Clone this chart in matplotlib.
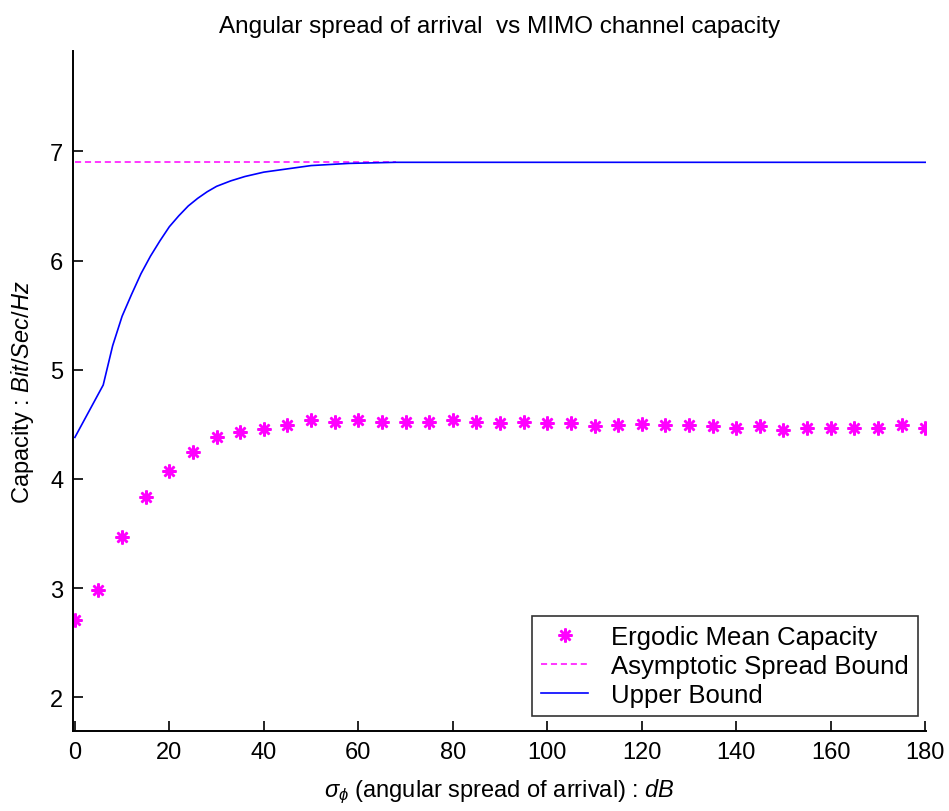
import numpy as np
import matplotlib
matplotlib.use("Agg")
import matplotlib.pyplot as plt

# Ergodic mean capacity, sampled every 5 degrees
spread = list(range(0, 185, 5))
ergodic = [2.71, 2.98, 3.47, 3.83, 4.07, 4.25, 4.38, 4.43, 4.46, 4.49,
           4.54, 4.52, 4.54, 4.52, 4.52, 4.52, 4.54, 4.52, 4.51, 4.52,
           4.51, 4.51, 4.48, 4.49, 4.50, 4.49, 4.49, 4.48, 4.47, 4.48,
           4.45, 4.47, 4.47, 4.47, 4.47, 4.49, 4.47]

# Upper bound curve
ub_x = [0, 3, 6, 8, 10, 12, 14, 16, 18, 20, 22, 24, 26, 28, 30, 33, 36, 40, 45, 50, 58, 68, 180]
ub_y = [4.38, 4.62, 4.86, 5.22, 5.49, 5.69, 5.88, 6.04, 6.18, 6.31, 6.41, 6.50,
        6.57, 6.63, 6.68, 6.73, 6.77, 6.81, 6.84, 6.87, 6.89, 6.90, 6.90]

# Asymptotic spread bound
asym_x = [0, 68]
asym_y = [6.90, 6.90]

plt.rcParams["font.family"] = ["Liberation Sans", "DejaVu Sans"]
plt.rcParams["mathtext.fontset"] = "custom"
plt.rcParams["mathtext.rm"] = "Liberation Sans"
plt.rcParams["mathtext.it"] = "Liberation Sans:italic"

fig = plt.figure(figsize=(9.49, 8.12), dpi=100)
ax = fig.add_axes([0.0769, 0.0985, 0.899, 0.8375])

ax.plot(spread, ergodic, linestyle="none", marker=(8, 2, 0), markersize=10,
        markeredgewidth=1.8, color="#ff00ff", label="Ergodic Mean Capacity")
ax.plot(asym_x, asym_y, color="#ff00ff", linestyle=(0, (4, 2.5)), linewidth=1.1,
        label="Asymptotic Spread Bound")
ax.plot(ub_x, ub_y, color="#0000ff", linewidth=1.2, label="Upper Bound")

ax.set_xlim(-0.4, 180.2)
ax.set_ylim(1.69, 7.92)
ax.set_xticks(range(0, 181, 20))
ax.set_yticks(range(2, 8))

ax.spines["top"].set_visible(False)
ax.spines["right"].set_visible(False)
for s in ("left", "bottom"):
    ax.spines[s].set_linewidth(1.4)
ax.tick_params(direction="in", length=7, width=1.2, labelsize=17, pad=7)

ax.set_title("Angular spread of arrival  vs MIMO channel capacity", fontsize=17.5, pad=14)
ax.set_xlabel(r"$\sigma_{\phi}$ (angular spread of arrival) : $\mathit{dB}$",
              fontsize=17, labelpad=10)
ax.set_ylabel(r"Capacity : $\mathit{Bit/Sec/Hz}$", fontsize=17, labelpad=10)

leg = ax.legend(loc="lower right", bbox_to_anchor=(0.99, 0.022), fontsize=18.5,
                frameon=True, fancybox=False, borderaxespad=0, handlelength=1.8,
                labelspacing=0.2, borderpad=0.35, handletextpad=0.9)
leg.get_frame().set_edgecolor("black")
leg.get_frame().set_linewidth(1.2)

fig.savefig("out.png", dpi=100)
